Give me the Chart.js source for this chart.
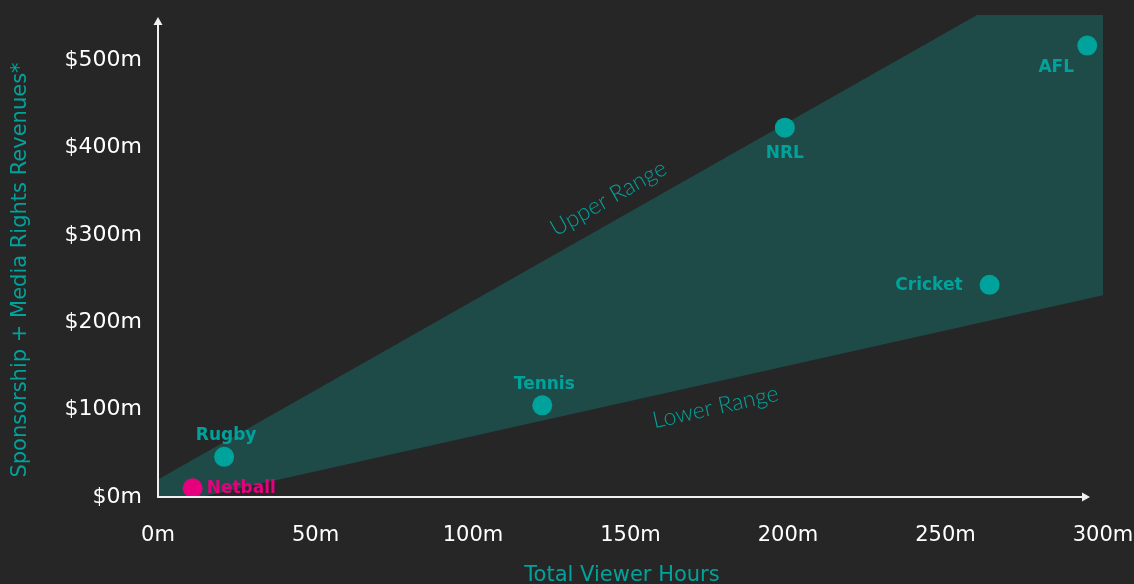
<!DOCTYPE html>
<html>
<head>
<meta charset="utf-8">
<script src="https://cdn.jsdelivr.net/npm/chart.js@4.4.1/dist/chart.umd.min.js"></script>
<style>
  html, body { margin: 0; padding: 0; background: #262626; }
  #wrap { width: 1134px; height: 584px; }
</style>
</head>
<body>
<div id="wrap"><canvas id="chart"></canvas></div>
<script>
// Данные графика
const sports = ['Netball', 'Rugby', 'Tennis', 'NRL', 'Cricket', 'AFL'];
const viewerHours = [11, 21, 122, 199, 264, 295];      // млн часов
const revenues = [10, 46, 105, 423, 243, 517];         // $ млн

const upperRangeX = [0, 260, 300];
const upperRangeY = [20, 552, 552];
const lowerRangeX = [0, 300];
const lowerRangeY = [-11, 231];

const xTicks = [0, 50, 100, 150, 200, 250, 300];
const yTicks = [0, 100, 200, 300, 400, 500];

const TEAL = '#00a39b';
const PINK = '#e6007e';
const BAND = '#1e4a48';
const FONT = "'DejaVu Sans', sans-serif";

function toPoints(xs, ys) {
    return xs.map((x, i) => ({ x: x, y: ys[i] }));
}

// Подписи точек и диапазонов, оси со стрелками
const annotations = {
    id: 'annotations',
    afterDatasetsDraw(chart) {
        const ctx = chart.ctx;
        const area = chart.chartArea;
        const xs = chart.scales.x;
        const ys = chart.scales.y;
        const meta = chart.getDatasetMeta(0);

        ctx.save();
        ctx.font = `bold 17px ${FONT}`;
        meta.data.forEach((pt, i) => {
            const name = sports[i];
            ctx.fillStyle = name === 'Netball' ? PINK : TEAL;
            ctx.textBaseline = 'middle';
            if (name === 'Netball') {
                ctx.textAlign = 'left';
                ctx.fillText(name, pt.x + 14, pt.y);
            } else if (name === 'Cricket') {
                ctx.textAlign = 'right';
                ctx.fillText(name, pt.x - 27, pt.y + 1);
            } else if (name === 'NRL') {
                ctx.textAlign = 'center';
                ctx.fillText(name, pt.x, pt.y + 26);
            } else if (name === 'AFL') {
                ctx.textAlign = 'center';
                ctx.fillText(name, pt.x - 31, pt.y + 22);
            } else {
                ctx.textAlign = 'center';
                ctx.fillText(name, pt.x + 2, pt.y - 21);
            }
        });

        // Upper / Lower Range
        const upA = Math.atan2(ys.getPixelForValue(upperRangeY[1]) - ys.getPixelForValue(upperRangeY[0]),
                               xs.getPixelForValue(upperRangeX[1]) - xs.getPixelForValue(upperRangeX[0]));
        const loA = Math.atan2(ys.getPixelForValue(lowerRangeY[1]) - ys.getPixelForValue(lowerRangeY[0]),
                               xs.getPixelForValue(lowerRangeX[1]) - xs.getPixelForValue(lowerRangeX[0]));
        ctx.font = `300 23px Lato, ${FONT}`;
        ctx.fillStyle = TEAL;
        ctx.textAlign = 'center';
        ctx.textBaseline = 'middle';
        ctx.save();
        ctx.translate(xs.getPixelForValue(143), ys.getPixelForValue(342));
        ctx.rotate(upA);
        ctx.fillText('Upper Range', 0, 0);
        ctx.restore();
        ctx.save();
        ctx.translate(xs.getPixelForValue(177), ys.getPixelForValue(103));
        ctx.rotate(loA);
        ctx.fillText('Lower Range', 0, 0);
        ctx.restore();

        // Оси со стрелками
        ctx.strokeStyle = '#f0f0f0';
        ctx.fillStyle = '#f0f0f0';
        ctx.lineWidth = 2;
        const x0 = area.left, y0 = area.bottom;
        const xEnd = area.right - 13, yEnd = area.top + 2;
        ctx.beginPath();
        ctx.moveTo(x0, y0 + 1);
        ctx.lineTo(x0, yEnd + 6);
        ctx.moveTo(x0 - 1, y0);
        ctx.lineTo(xEnd - 6, y0);
        ctx.stroke();
        ctx.beginPath();
        ctx.moveTo(x0, yEnd);
        ctx.lineTo(x0 - 4.5, yEnd + 8);
        ctx.lineTo(x0 + 4.5, yEnd + 8);
        ctx.closePath();
        ctx.fill();
        ctx.beginPath();
        ctx.moveTo(xEnd, y0);
        ctx.lineTo(xEnd - 8, y0 - 4.5);
        ctx.lineTo(xEnd - 8, y0 + 4.5);
        ctx.closePath();
        ctx.fill();

        // Заголовки осей
        ctx.font = `21px ${FONT}`;
        ctx.fillStyle = TEAL;
        ctx.textAlign = 'center';
        ctx.textBaseline = 'middle';
        ctx.fillText('Total Viewer Hours', 622, 576);
        ctx.save();
        ctx.translate(21, 270);
        ctx.rotate(-Math.PI / 2);
        ctx.fillText('Sponsorship + Media Rights Revenues*', 0, 0);
        ctx.restore();
        ctx.restore();
    }
};

new Chart(document.getElementById('chart'), {
    type: 'scatter',
    data: {
        datasets: [{
            data: toPoints(viewerHours, revenues),
            backgroundColor: sports.map(s => s === 'Netball' ? PINK : TEAL),
            borderWidth: 0,
            pointRadius: 10,
            pointHoverRadius: 10,
            order: 0
        }, {
            type: 'line',
            data: toPoints(upperRangeX, upperRangeY),
            borderWidth: 0,
            pointRadius: 0,
            fill: false,
            order: 1
        }, {
            type: 'line',
            data: toPoints(lowerRangeX, lowerRangeY),
            borderWidth: 0,
            pointRadius: 0,
            backgroundColor: BAND,
            fill: '-1',
            order: 2
        }]
    },
    options: {
        responsive: true,
        maintainAspectRatio: false,
        animation: false,
        layout: { padding: { top: 15, right: 31, left: 0, bottom: 0 } },
        scales: {
            x: {
                type: 'linear',
                min: 0,
                max: 300,
                afterBuildTicks: s => { s.ticks = xTicks.map(v => ({ value: v })); },
                afterFit: s => { s.height = 87; s.paddingLeft = 0; s.paddingRight = 0; },
                grid: { display: false },
                border: { display: false },
                ticks: {
                    color: '#ffffff',
                    padding: 18,
                    maxRotation: 0,
                    font: { family: FONT, size: 21 },
                    callback: v => v + 'm'
                }
            },
            y: {
                min: 0,
                max: 552,
                afterBuildTicks: s => { s.ticks = yTicks.map(v => ({ value: v })); },
                afterFit: s => { s.width = 158; s.paddingTop = 0; s.paddingBottom = 0; },
                grid: { display: false, drawTicks: false },
                border: { display: false },
                ticks: {
                    color: '#ffffff',
                    padding: 16,
                    font: { family: FONT, size: 22 },
                    callback: v => '$' + v + 'm'
                }
            }
        },
        plugins: {
            legend: { display: false },
            tooltip: { enabled: false }
        }
    },
    plugins: [annotations]
});
</script>
</body>
</html>
